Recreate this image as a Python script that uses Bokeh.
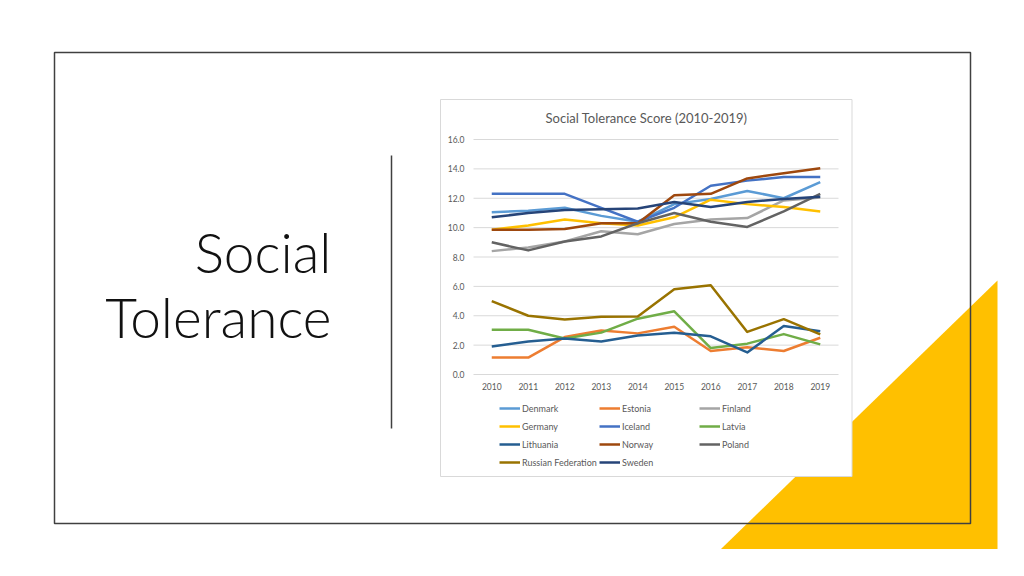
from bokeh.plotting import figure
from bokeh.models import Range1d, Legend, LegendItem
from bokeh.core.properties import value
from bokeh.embed import file_html
from bokeh.resources import INLINE

# ---------------- data ----------------
years = [2010, 2011, 2012, 2013, 2014, 2015, 2016, 2017, 2018, 2019]
denmark = [11.05, 11.15, 11.35, 10.8, 10.4, 11.6, 11.95, 12.5, 12.0, 13.1]
estonia = [1.15, 1.15, 2.55, 3.0, 2.8, 3.25, 1.6, 1.85, 1.6, 2.5]
finland = [8.4, 8.65, 9.05, 9.75, 9.55, 10.25, 10.55, 10.65, 11.85, 12.05]
germany = [9.85, 10.15, 10.55, 10.3, 10.15, 10.7, 11.9, 11.6, 11.4, 11.1]
iceland = [12.3, 12.3, 12.3, 11.35, 10.4, 11.35, 12.85, 13.2, 13.45, 13.45]
latvia = [3.05, 3.05, 2.45, 2.85, 3.8, 4.3, 1.8, 2.1, 2.75, 2.05]
lithuania = [1.9, 2.25, 2.45, 2.25, 2.65, 2.85, 2.6, 1.5, 3.3, 2.95]
norway = [9.85, 9.85, 9.9, 10.3, 10.3, 12.2, 12.3, 13.35, 13.7, 14.05]
poland = [9.0, 8.45, 9.05, 9.4, 10.3, 11.0, 10.4, 10.05, 11.1, 12.3]
russia = [5.0, 4.0, 3.75, 3.93, 3.95, 5.8, 6.08, 2.9, 3.77, 2.73]
sweden = [10.7, 11.0, 11.2, 11.25, 11.3, 11.75, 11.4, 11.75, 11.95, 12.1]

series_names = ["Denmark", "Estonia", "Finland", "Germany", "Iceland", "Latvia",
                "Lithuania", "Norway", "Poland", "Russian Federation", "Sweden"]
series_values = [denmark, estonia, finland, germany, iceland, latvia,
                 lithuania, norway, poland, russia, sweden]
series_colors = ["#5B9BD5", "#ED7D31", "#A5A5A5", "#FFC000", "#4472C4", "#70AD47",
                 "#255E91", "#9E480E", "#636363", "#997300", "#264478"]
y_ticks = [0, 2, 4, 6, 8, 10, 12, 14, 16]
y_tick_labels = [f"{t:.1f}" for t in y_ticks]
x_tick_labels = [str(y) for y in years]

chart_title = "Social Tolerance Score (2010-2019)"
slide_title = ["Social", "Tolerance"]

# ---------------- canvas (slide pixel coordinates) ----------------
W, H = 1008, 560
p = figure(width=W, height=H, output_backend="svg", toolbar_location=None,
           x_range=Range1d(0, W), y_range=Range1d(H, 0), min_border=0,
           x_axis_type=None, y_axis_type=None)
p.outline_line_color = None
p.grid.visible = False
p.background_fill_color = "white"
p.border_fill_color = "white"

# chart plot area on the slide
PA_L, PA_R, PA_T, PA_B = 473, 838, 139, 374
X0, X1, Y0, Y1 = 2009.5, 2019.5, 0.0, 16.0
xs = (X1 - X0) / (PA_R - PA_L) * W
xstart = X0 - PA_L / W * xs
ys = (Y1 - Y0) / (PA_B - PA_T) * H
ystart = Y0 - (H - PA_B) / H * ys
p.extra_x_ranges = {"yr": Range1d(xstart, xstart + xs)}
p.extra_y_ranges = {"val": Range1d(ystart, ystart + ys)}

# slide decorations
p.patch([997, 997, 720.5], [280, 548.5, 548.5], fill_color="#FFC000", line_color=None)
p.quad(left=[54], right=[970], top=[52], bottom=[523], fill_alpha=0,
       line_color="#404040", line_width=1.5)
p.segment(x0=[391], y0=[155], x1=[391], y1=[428], line_color="#404040", line_width=1.5)
p.quad(left=[440], right=[851.5], top=[99], bottom=[476], fill_color="white",
       line_color="#D9D9D9", line_width=1)
p.text(x=[331, 331], y=[251, 316], text=slide_title, text_align="right",
       text_baseline="alphabetic", text_font=value("Lato Light"),
       text_font_size="55px", text_color="#111111")

# chart title
p.text(x=[646], y=[117], text=[chart_title], text_align="center", text_baseline="middle",
       text_font=value("Lato"), text_font_size="13px", text_color="#595959")

# grid lines and tick labels through the chart scales
p.segment(x0=[X0] * len(y_ticks), y0=y_ticks, x1=[X1] * len(y_ticks), y1=y_ticks,
          x_range_name="yr", y_range_name="val", line_color="#D9D9D9", line_width=1)
p.text(x=[X0] * len(y_ticks), y=y_ticks, text=y_tick_labels, x_offset=-9,
       x_range_name="yr", y_range_name="val", text_align="right", text_baseline="middle",
       text_font=value("Lato"), text_font_size="8.5px", text_color="#595959")
p.text(x=years, y=[Y0] * len(years), text=x_tick_labels, y_offset=8,
       x_range_name="yr", y_range_name="val", text_align="center", text_baseline="top",
       text_font=value("Lato"), text_font_size="8.5px", text_color="#595959")

# series
items = []
for name, vals, col in zip(series_names, series_values, series_colors):
    r = p.line(years, vals, x_range_name="yr", y_range_name="val",
               line_color=col, line_width=2.5, line_join="round")
    items.append(LegendItem(label=name, renderers=[r]))

legend = Legend(items=items, orientation="horizontal", ncols=3, location=(499, 90),
                label_text_font="Lato", label_text_font_size="9px",
                label_text_color="#595959", glyph_width=21, glyph_height=16,
                label_standoff=2, label_width=75, label_height=16, spacing=2,
                padding=0, margin=0, border_line_color=None, background_fill_alpha=0)
p.add_layout(legend)

open("out.html", "w").write(file_html(p, INLINE))
